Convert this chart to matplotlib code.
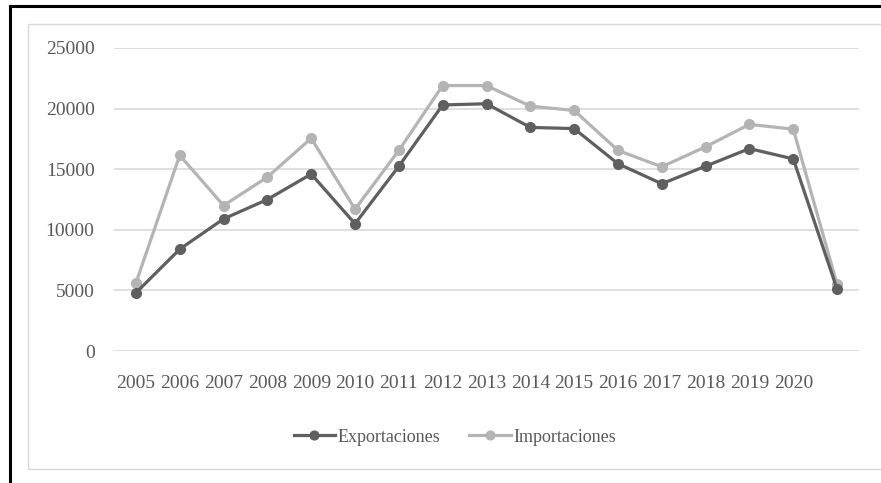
import matplotlib
matplotlib.use("Agg")
import matplotlib.pyplot as plt
from matplotlib.lines import Line2D
from matplotlib.patches import Rectangle

# Trade values per year (the last point has no year label on the axis)
years = ["2005", "2006", "2007", "2008", "2009", "2010", "2011", "2012",
         "2013", "2014", "2015", "2016", "2017", "2018", "2019", "2020", ""]
exportaciones = [4800, 8400, 10900, 12500, 14600, 10500, 15250, 20300,
                 20400, 18450, 18350, 15450, 13800, 15250, 16700, 15850, 5100]
importaciones = [5600, 16150, 12000, 14350, 17550, 11700, 16550, 21900,
                 21900, 20200, 19850, 16550, 15200, 16850, 18700, 18300, 5500]
y_ticks = [0, 5000, 10000, 15000, 20000, 25000]

W, H = 881, 483
fig = plt.figure(figsize=(W / 100, H / 100), dpi=100)
fig.patch.set_facecolor("white")

font = ["Liberation Serif", "DejaVu Serif"]
txt_color = "#595959"
fs = 14

def fx(px):
    return px / W

def fy(py):
    return 1 - py / H

# outer black frame (top and left edges visible)
fig.add_artist(Line2D([fx(10), 1.0], [fy(6), fy(6)], color="black", lw=2.2,
                      transform=fig.transFigure))
fig.add_artist(Line2D([fx(10), fx(10)], [fy(6), 0.0], color="black", lw=2.2,
                      transform=fig.transFigure))
# light chart-area border
fig.add_artist(Rectangle((fx(28), fy(469)), 1.0, fy(24) - fy(469),
                         fill=False, edgecolor="#d9d9d9", lw=1.0,
                         transform=fig.transFigure))

left, right = fx(114), fx(859)
bottom, top = fy(351), fy(48)
ax = fig.add_axes([left, bottom, right - left, top - bottom])

x = list(range(len(years)))
ax.plot(x, exportaciones, color="#5f5f5f", lw=2.3, marker="o", ms=7,
        label="Exportaciones", zorder=3, solid_joinstyle="round")
ax.plot(x, importaciones, color="#b4b4b4", lw=2.3, marker="o", ms=7,
        label="Importaciones", zorder=2, solid_joinstyle="round")

ax.set_xlim(-0.5, len(years) - 0.5)
ax.set_ylim(0, 25000)
ax.set_yticks(y_ticks)
ax.set_yticklabels([str(v) for v in y_ticks], family=font, fontsize=fs,
                   color=txt_color)
ax.set_xticks(x)
ax.set_xticklabels(years, family=font, fontsize=fs, color=txt_color)
ax.tick_params(axis="both", length=0)
ax.tick_params(axis="y", pad=14)
ax.tick_params(axis="x", pad=17)
ax.grid(axis="y", color="#d9d9d9", lw=1.2)
ax.set_axisbelow(True)
for s in ax.spines.values():
    s.set_visible(False)

leg = fig.legend(loc="center", bbox_to_anchor=(fx(455), fy(437)), ncol=2,
                 frameon=False, prop={"family": font, "size": 13},
                 handlelength=2.3, handletextpad=0.15, columnspacing=1.6,
                 markerscale=0.9)
for t in leg.get_texts():
    t.set_color(txt_color)

fig.savefig("out.png", dpi=100, facecolor="white")
